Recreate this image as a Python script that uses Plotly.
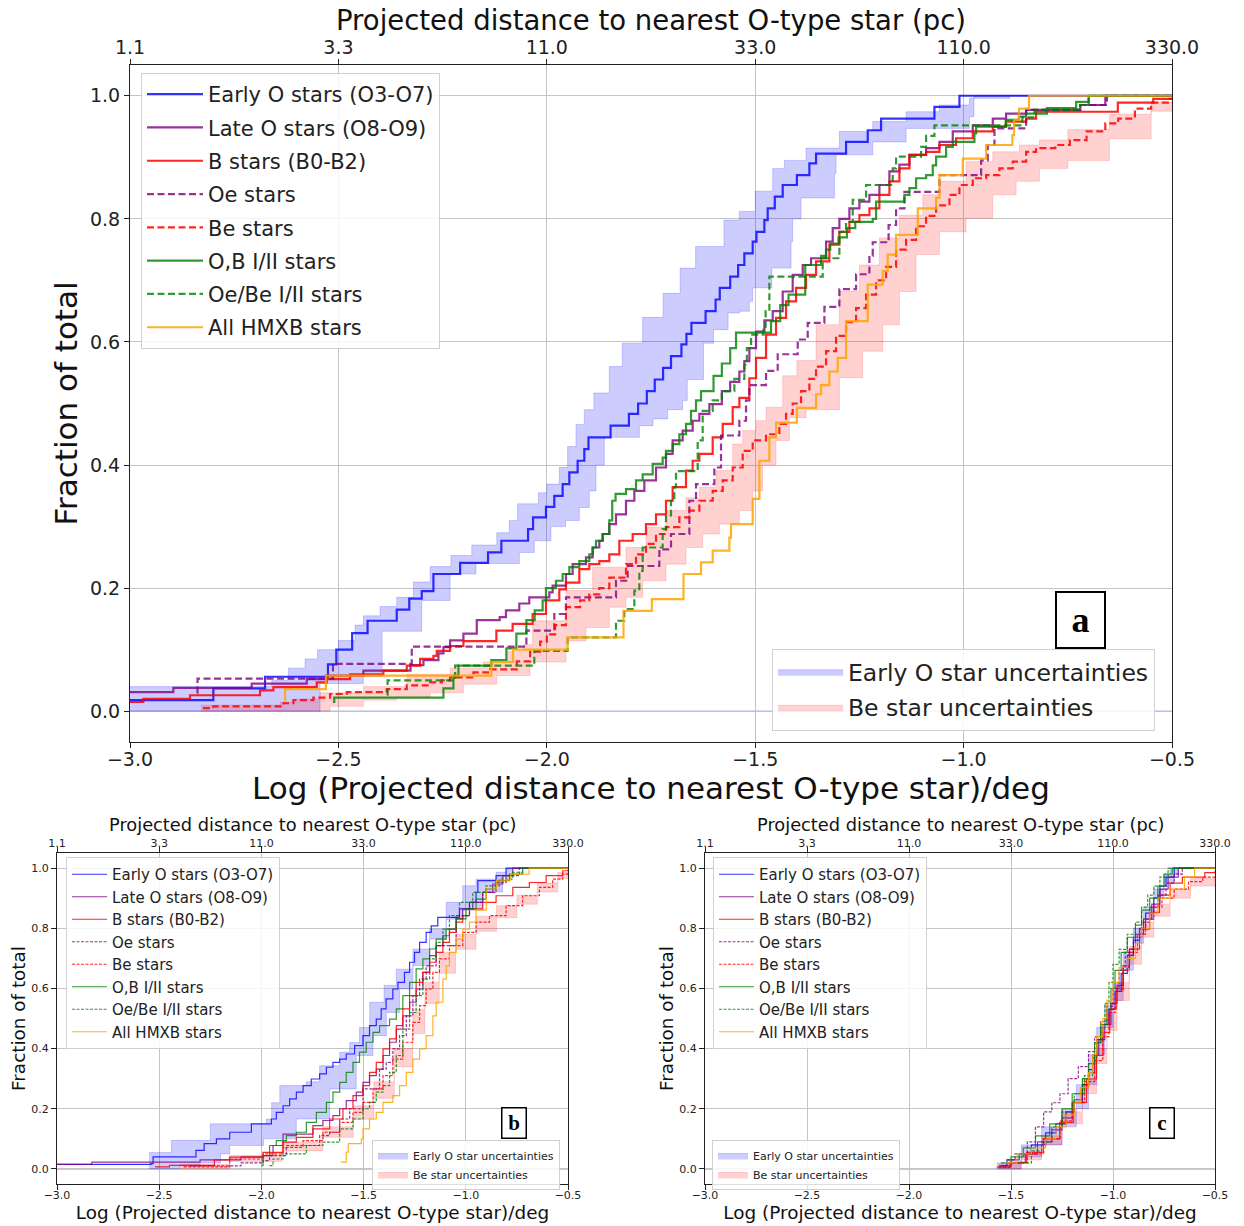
import plotly.graph_objects as go

# ---------------- axis tick labels ----------------
X_TICKS = [-3.0, -2.5, -2.0, -1.5, -1.0, -0.5]
X_TICK_LABELS = ["−3.0", "−2.5", "−2.0", "−1.5", "−1.0", "−0.5"]
PC_TICK_LABELS = ["1.1", "3.3", "11.0", "33.0", "110.0", "330.0"]
Y_TICKS = [0.0, 0.2, 0.4, 0.6, 0.8, 1.0]
Y_TICK_LABELS = ["0.0", "0.2", "0.4", "0.6", "0.8", "1.0"]

SERIES_NAMES = ["Early O stars (O3-O7)", "Late O stars (O8-O9)", "B stars (B0-B2)", "Oe stars",
                "Be stars", "O,B I/II stars", "Oe/Be I/II stars", "All HMXB stars"]
BAND_NAMES = ["Early O star uncertainties", "Be star uncertainties"]

# ---------------- panel a : (log distance, cumulative fraction) step points ----------------
A_EARLY_O = [(-3.0,0.018),(-2.80,0.037),(-2.676,0.056),(-2.525,0.076),(-2.505,0.100),(-2.467,0.127),(-2.43,0.147),
             (-2.36,0.165),(-2.33,0.183),(-2.30,0.195),(-2.272,0.223),(-2.208,0.241),(-2.141,0.258),(-2.109,0.277),
             (-2.045,0.296),(-2.033,0.315),(-2.002,0.332),(-1.982,0.350),(-1.962,0.369),(-1.946,0.388),(-1.926,0.407),
             (-1.910,0.426),(-1.90,0.445),(-1.847,0.464),(-1.803,0.483),(-1.781,0.500),(-1.760,0.520),(-1.741,0.539),
             (-1.721,0.558),(-1.702,0.577),(-1.677,0.596),(-1.665,0.613),(-1.653,0.631),(-1.619,0.650),(-1.595,0.669),
             (-1.585,0.688),(-1.560,0.706),(-1.541,0.725),(-1.526,0.744),(-1.506,0.763),(-1.497,0.779),(-1.478,0.798),
             (-1.47,0.817),(-1.453,0.836),(-1.434,0.855),(-1.40,0.871),(-1.37,0.890),(-1.354,0.906),(-1.282,0.925),
             (-1.23,0.944),(-1.198,0.963),(-1.07,0.982),(-1.01,1.0),(-0.5,1.0)]
A_EARLY_O_HI = [(-3.0,0.04),(-2.66,0.05),(-2.62,0.07),(-2.58,0.085),(-2.55,0.10),(-2.50,0.115),(-2.46,0.14),(-2.44,0.155),
                (-2.40,0.17),(-2.36,0.185),(-2.32,0.21),(-2.28,0.235),(-2.23,0.253),(-2.18,0.27),(-2.12,0.29),(-2.09,0.31),
                (-2.07,0.337),(-2.02,0.355),(-2.0,0.369),(-1.97,0.396),(-1.95,0.43),(-1.93,0.466),(-1.91,0.49),(-1.887,0.517),
                (-1.85,0.56),(-1.819,0.598),(-1.77,0.64),(-1.721,0.679),(-1.68,0.72),(-1.643,0.755),(-1.575,0.798),
                (-1.538,0.812),(-1.50,0.845),(-1.458,0.882),(-1.43,0.895),(-1.378,0.915),(-1.298,0.942),(-1.218,0.958),
                (-1.138,0.974),(-1.058,0.985),(-0.986,0.996),(-0.89,1.0),(-0.5,1.0)]
A_EARLY_O_LO = [(-3.0,0.0),(-2.544,0.045),(-2.44,0.056),(-2.395,0.13),(-2.30,0.18),(-2.232,0.223),(-2.17,0.24),(-2.066,0.258),
                (-2.03,0.277),(-1.99,0.30),(-1.955,0.31),(-1.922,0.331),(-1.898,0.358),(-1.882,0.40),(-1.862,0.445),
                (-1.778,0.464),(-1.745,0.475),(-1.71,0.49),(-1.674,0.505),(-1.663,0.539),(-1.624,0.598),(-1.60,0.62),
                (-1.565,0.647),(-1.538,0.65),(-1.514,0.666),(-1.506,0.688),(-1.46,0.72),(-1.414,0.763),(-1.41,0.80),
                (-1.39,0.834),(-1.31,0.874),(-1.306,0.904),(-1.218,0.925),(-1.138,0.947),(-0.986,0.966),(-0.975,1.0),(-0.5,1.0)]
A_LATE_O = [(-3.0,0.031),(-2.896,0.038),(-2.708,0.045),(-2.576,0.052),(-2.53,0.058),(-2.44,0.066),(-2.327,0.075),
            (-2.296,0.083),(-2.26,0.094),(-2.248,0.104),(-2.232,0.115),(-2.20,0.126),(-2.168,0.148),(-2.113,0.153),
            (-2.098,0.164),(-2.066,0.175),(-2.042,0.185),(-1.994,0.193),(-1.986,0.204),(-1.954,0.223),(-1.938,0.239),
            (-1.906,0.25),(-1.89,0.266),(-1.874,0.277),(-1.866,0.288),(-1.85,0.304),(-1.834,0.32),(-1.81,0.342),
            (-1.79,0.358),(-1.766,0.375),(-1.738,0.396),(-1.714,0.418),(-1.698,0.44),(-1.674,0.456),(-1.65,0.472),
            (-1.634,0.483),(-1.61,0.499),(-1.58,0.52),(-1.56,0.535),(-1.538,0.552),(-1.526,0.569),(-1.514,0.59),
            (-1.498,0.617),(-1.478,0.635),(-1.458,0.65),(-1.434,0.682),(-1.41,0.709),(-1.386,0.725),(-1.366,0.736),
            (-1.33,0.763),(-1.314,0.785),(-1.298,0.80),(-1.274,0.817),(-1.25,0.828),(-1.226,0.839),(-1.202,0.855),
            (-1.178,0.877),(-1.154,0.888),(-1.13,0.904),(-1.09,0.915),(-1.058,0.925),(-1.026,0.942),(-0.978,0.952),
            (-0.93,0.963),(-0.898,0.971),(-0.85,0.977),(-0.72,0.985),(-0.66,1.0),(-0.5,1.0)]
A_B_STARS = [(-3.0,0.015),(-2.968,0.02),(-2.856,0.026),(-2.688,0.034),(-2.656,0.039),(-2.552,0.047),(-2.528,0.052),
             (-2.472,0.06),(-2.392,0.066),(-2.336,0.074),(-2.304,0.085),(-2.272,0.09),(-2.264,0.098),(-2.232,0.106),
             (-2.20,0.114),(-2.121,0.131),(-2.082,0.142),(-2.034,0.158),(-2.002,0.18),(-1.97,0.198),(-1.954,0.209),
             (-1.922,0.231),(-1.898,0.239),(-1.874,0.244),(-1.85,0.255),(-1.826,0.277),(-1.794,0.288),(-1.762,0.304),
             (-1.738,0.32),(-1.714,0.342),(-1.698,0.364),(-1.666,0.391),(-1.65,0.407),(-1.634,0.418),(-1.602,0.445),
             (-1.578,0.467),(-1.554,0.494),(-1.538,0.509),(-1.514,0.541),(-1.498,0.574),(-1.474,0.612),(-1.45,0.639),
             (-1.426,0.666),(-1.402,0.688),(-1.378,0.709),(-1.354,0.731),(-1.322,0.758),(-1.298,0.779),(-1.274,0.795),
             (-1.25,0.806),(-1.226,0.817),(-1.202,0.839),(-1.178,0.861),(-1.154,0.882),(-1.13,0.904),(-1.09,0.909),
             (-1.058,0.92),(-1.018,0.931),(-0.978,0.942),(-0.93,0.95),(-0.898,0.958),(-0.85,0.963),(-0.826,0.974),
             (-0.63,0.989),(-0.545,0.995),(-0.5,0.995)]
A_OE = [(-2.84,0.03),(-2.838,0.053),(-2.513,0.077),(-2.324,0.105),(-2.049,0.131),(-1.982,0.158),(-1.954,0.185),
        (-1.834,0.212),(-1.806,0.236),(-1.73,0.263),(-1.702,0.288),(-1.658,0.342),(-1.642,0.369),(-1.598,0.396),
        (-1.582,0.448),(-1.538,0.472),(-1.522,0.505),(-1.514,0.53),(-1.474,0.553),(-1.446,0.58),(-1.398,0.604),
        (-1.374,0.631),(-1.334,0.657),(-1.298,0.686),(-1.258,0.71),(-1.226,0.74),(-1.218,0.762),(-1.18,0.79),
        (-1.162,0.817),(-1.142,0.844),(-1.058,0.871),(-0.958,0.895),(-0.942,0.92),(-0.926,0.947),(-0.85,0.977),
        (-0.72,0.985),(-0.656,1.0),(-0.5,1.0)]
A_BE = [(-2.825,0.005),(-2.80,0.008),(-2.632,0.013),(-2.608,0.018),(-2.56,0.022),(-2.52,0.028),(-2.48,0.031),
        (-2.384,0.036),(-2.336,0.042),(-2.28,0.047),(-2.252,0.05),(-2.232,0.055),(-2.176,0.063),(-2.136,0.068),
        (-2.072,0.081),(-2.04,0.097),(-2.016,0.113),(-2.0,0.125),(-1.98,0.14),(-1.954,0.169),(-1.92,0.18),
        (-1.898,0.19),(-1.874,0.20),(-1.85,0.217),(-1.81,0.239),(-1.786,0.255),(-1.762,0.272),(-1.738,0.288),
        (-1.714,0.299),(-1.682,0.315),(-1.658,0.326),(-1.634,0.342),(-1.602,0.358),(-1.578,0.375),(-1.554,0.396),
        (-1.53,0.423),(-1.506,0.44),(-1.474,0.45),(-1.442,0.467),(-1.426,0.483),(-1.41,0.50),(-1.39,0.52),
        (-1.37,0.54),(-1.354,0.56),(-1.33,0.585),(-1.306,0.61),(-1.282,0.632),(-1.258,0.655),(-1.234,0.677),
        (-1.21,0.70),(-1.186,0.722),(-1.162,0.75),(-1.138,0.766),(-1.114,0.788),(-1.09,0.805),(-1.066,0.822),
        (-1.034,0.839),(-1.01,0.855),(-0.978,0.866),(-0.946,0.871),(-0.914,0.882),(-0.882,0.893),(-0.85,0.909),
        (-0.826,0.915),(-0.78,0.92),(-0.745,0.928),(-0.705,0.942),(-0.66,0.955),(-0.629,0.963),(-0.589,0.979),
        (-0.55,0.989),(-0.51,0.995),(-0.5,0.995)]
A_BE_HI = [(-2.83,0.01),(-2.64,0.015),(-2.6,0.02),(-2.544,0.03),(-2.44,0.04),(-2.336,0.06),(-2.232,0.07),(-2.152,0.08),
           (-2.096,0.097),(-2.056,0.108),(-2.034,0.147),(-1.954,0.196),(-1.89,0.234),(-1.81,0.266),(-1.762,0.299),
           (-1.714,0.326),(-1.666,0.347),(-1.634,0.364),(-1.594,0.391),(-1.554,0.434),(-1.53,0.456),(-1.498,0.472),
           (-1.474,0.494),(-1.434,0.545),(-1.40,0.57),(-1.354,0.628),(-1.298,0.682),(-1.25,0.725),(-1.202,0.769),
           (-1.154,0.806),(-1.098,0.839),(-1.058,0.861),(-0.994,0.893),(-0.93,0.909),(-0.866,0.92),(-0.818,0.928),
           (-0.75,0.945),(-0.65,0.97),(-0.55,0.99),(-0.5,1.0)]
A_BE_LO = [(-2.83,0.0),(-2.52,0.008),(-2.44,0.018),(-2.36,0.023),(-2.28,0.03),(-2.2,0.044),(-2.12,0.058),(-2.04,0.08),
           (-1.954,0.114),(-1.906,0.136),(-1.85,0.169),(-1.81,0.185),(-1.77,0.212),(-1.714,0.239),(-1.666,0.266),
           (-1.626,0.288),(-1.586,0.304),(-1.538,0.326),(-1.506,0.358),(-1.482,0.40),(-1.45,0.44),(-1.418,0.477),
           (-1.378,0.49),(-1.298,0.542),(-1.242,0.585),(-1.194,0.628),(-1.154,0.682),(-1.114,0.742),(-1.058,0.779),
           (-0.994,0.801),(-0.93,0.839),(-0.874,0.861),(-0.818,0.882),(-0.75,0.895),(-0.65,0.93),(-0.55,0.975),(-0.5,0.985)]
A_OB_I = [(-2.513,0.015),(-2.51,0.022),(-2.248,0.037),(-2.224,0.058),(-2.212,0.074),(-2.133,0.083),(-2.097,0.102),
          (-2.073,0.126),(-2.049,0.148),(-2.029,0.164),(-2.01,0.18),(-2.002,0.20),(-1.978,0.212),(-1.962,0.223),
          (-1.946,0.234),(-1.922,0.244),(-1.898,0.255),(-1.89,0.266),(-1.882,0.277),(-1.866,0.288),(-1.85,0.310),
          (-1.843,0.342),(-1.835,0.353),(-1.81,0.361),(-1.786,0.375),(-1.77,0.385),(-1.746,0.402),(-1.722,0.412),
          (-1.714,0.423),(-1.698,0.434),(-1.682,0.45),(-1.666,0.467),(-1.654,0.488),(-1.642,0.505),(-1.63,0.52),
          (-1.60,0.545),(-1.58,0.565),(-1.56,0.59),(-1.546,0.615),(-1.462,0.634),(-1.44,0.66),(-1.42,0.677),
          (-1.38,0.725),(-1.342,0.74),(-1.33,0.75),(-1.32,0.76),(-1.30,0.77),(-1.28,0.785),(-1.26,0.795),
          (-1.218,0.80),(-1.21,0.828),(-1.142,0.839),(-1.13,0.85),(-1.114,0.866),(-1.09,0.871),(-1.074,0.887),
          (-1.066,0.901),(-1.042,0.917),(-1.026,0.925),(-0.974,0.939),(-0.97,0.95),(-0.899,0.961),(-0.867,0.966),
          (-0.85,0.971),(-0.80,0.98),(-0.73,0.99),(-0.70,1.0),(-0.5,1.0)]
A_OEBE_I = [(-2.384,0.027),(-2.382,0.05),(-2.22,0.074),(-2.03,0.098),(-1.95,0.12),(-1.834,0.147),(-1.814,0.166),
            (-1.79,0.196),(-1.778,0.228),(-1.77,0.266),(-1.722,0.296),(-1.714,0.318),(-1.702,0.342),(-1.694,0.364),
            (-1.69,0.39),(-1.638,0.44),(-1.626,0.488),(-1.602,0.505),(-1.58,0.52),(-1.55,0.54),(-1.526,0.563),
            (-1.52,0.59),(-1.51,0.612),(-1.48,0.62),(-1.475,0.65),(-1.466,0.706),(-1.338,0.736),(-1.298,0.779),
            (-1.282,0.795),(-1.266,0.831),(-1.234,0.855),(-1.17,0.882),(-1.162,0.901),(-1.102,0.917),(-1.09,0.935),
            (-1.07,0.952),(-0.859,0.965),(-0.83,0.977),(-0.72,0.985),(-0.70,1.0),(-0.5,1.0)]
A_HMXB = [(-2.63,0.018),(-2.628,0.036),(-2.53,0.058),(-2.133,0.08),(-2.081,0.10),(-1.95,0.12),(-1.816,0.163),
          (-1.748,0.182),(-1.672,0.223),(-1.63,0.242),(-1.602,0.261),(-1.562,0.282),(-1.558,0.304),(-1.506,0.345),
          (-1.49,0.407),(-1.466,0.445),(-1.45,0.469),(-1.40,0.493),(-1.354,0.515),(-1.342,0.53),(-1.322,0.552),
          (-1.302,0.574),(-1.282,0.634),(-1.23,0.693),(-1.194,0.715),(-1.182,0.742),(-1.162,0.774),(-1.11,0.817),
          (-1.066,0.834),(-1.058,0.871),(-1.002,0.898),(-0.946,0.92),(-0.883,0.936),(-0.879,0.961),(-0.867,0.979),
          (-0.843,1.0),(-0.5,1.0)]

# ---------------- panel b ----------------
B_EARLY_O = [(-3.0,0.015),(-2.54,0.018),(-2.53,0.04),(-2.32,0.062),(-2.28,0.084),(-2.22,0.10),(-2.155,0.122),(-2.049,0.15),
             (-1.951,0.166),(-1.927,0.188),(-1.894,0.21),(-1.862,0.233),(-1.829,0.255),(-1.796,0.277),(-1.756,0.299),
             (-1.715,0.316),(-1.682,0.338),(-1.65,0.354),(-1.617,0.365),(-1.585,0.382),(-1.544,0.41),(-1.503,0.443),
             (-1.471,0.476),(-1.438,0.498),(-1.414,0.532),(-1.39,0.565),(-1.357,0.598),(-1.332,0.62),(-1.30,0.653),
             (-1.275,0.687),(-1.251,0.72),(-1.226,0.753),(-1.194,0.786),(-1.169,0.808),(-1.137,0.836),(-1.031,0.864),
             (-0.982,0.886),(-0.95,0.919),(-0.941,0.958),(-0.852,0.975),(-0.803,1.0),(-0.5,1.0)]
B_EARLY_O_HI = [(-2.55,0.055),(-2.44,0.095),(-2.25,0.15),(-2.155,0.15),(-1.976,0.166),(-1.95,0.22),(-1.91,0.277),
                (-1.78,0.29),(-1.715,0.343),(-1.617,0.388),(-1.568,0.42),(-1.52,0.47),(-1.47,0.554),(-1.40,0.61),
                (-1.34,0.664),(-1.259,0.731),(-1.177,0.797),(-1.096,0.886),(-1.015,0.941),(-0.95,0.963),(-0.852,0.986),
                (-0.80,1.0),(-0.5,1.0)]
B_EARLY_O_LO = [(-2.55,0.0),(-2.40,0.01),(-2.30,0.02),(-2.2,0.05),(-2.155,0.078),(-1.99,0.10),(-1.829,0.166),
                (-1.666,0.266),(-1.536,0.377),(-1.454,0.443),(-1.389,0.52),(-1.324,0.598),(-1.259,0.676),(-1.177,0.764),
                (-1.096,0.83),(-1.015,0.86),(-0.917,0.92),(-0.82,0.97),(-0.77,1.0),(-0.5,1.0)]
B_LATE_O = [(-3.0,0.015),(-2.83,0.023),(-2.3,0.03),(-2.1,0.04),(-1.992,0.044),(-1.943,0.078),(-1.894,0.116),
            (-1.748,0.144),(-1.699,0.161),(-1.65,0.177),(-1.617,0.2),(-1.585,0.227),(-1.536,0.255),(-1.503,0.288),
            (-1.471,0.31),(-1.438,0.332),(-1.405,0.377),(-1.373,0.421),(-1.34,0.465),(-1.308,0.509),(-1.275,0.554),
            (-1.243,0.598),(-1.21,0.653),(-1.177,0.709),(-1.145,0.742),(-1.112,0.775),(-1.08,0.797),(-1.047,0.831),
            (-1.015,0.864),(-0.966,0.886),(-0.917,0.919),(-0.868,0.947),(-0.819,0.975),(-0.77,1.0),(-0.5,1.0)]
B_B_STARS = [(-2.52,0.007),(-2.45,0.012),(-2.23,0.03),(-2.156,0.039),(-1.992,0.055),(-1.894,0.089),(-1.829,0.105),
             (-1.748,0.133),(-1.666,0.166),(-1.601,0.2),(-1.552,0.244),(-1.503,0.277),(-1.471,0.321),(-1.438,0.354),
             (-1.405,0.399),(-1.373,0.432),(-1.34,0.476),(-1.308,0.532),(-1.275,0.576),(-1.243,0.62),(-1.21,0.653),
             (-1.177,0.687),(-1.145,0.72),(-1.112,0.753),(-1.08,0.786),(-1.047,0.82),(-1.015,0.842),(-0.982,0.864),
             (-0.917,0.886),(-0.852,0.908),(-0.77,0.936),(-0.689,0.952),(-0.607,0.975),(-0.526,0.991),(-0.5,0.995)]
B_OE = [(-2.35,0.01),(-2.1,0.02),(-1.992,0.028),(-1.96,0.044),(-1.878,0.078),(-1.715,0.111),(-1.666,0.122),
        (-1.617,0.166),(-1.568,0.2),(-1.503,0.266),(-1.422,0.332),(-1.389,0.354),(-1.357,0.399),(-1.324,0.443),
        (-1.291,0.509),(-1.259,0.576),(-1.226,0.631),(-1.194,0.675),(-1.145,0.742),(-1.047,0.842),(-0.982,0.886),
        (-0.917,0.919),(-0.852,0.952),(-0.803,0.975),(-0.738,1.0),(-0.5,1.0)]
B_BE = [(-2.38,0.007),(-2.155,0.033),(-1.992,0.05),(-1.894,0.072),(-1.796,0.094),(-1.699,0.122),(-1.617,0.155),
        (-1.552,0.188),(-1.503,0.221),(-1.454,0.266),(-1.405,0.31),(-1.357,0.365),(-1.308,0.421),(-1.259,0.487),
        (-1.226,0.543),(-1.194,0.598),(-1.161,0.653),(-1.129,0.698),(-1.08,0.742),(-1.015,0.786),(-0.95,0.82),
        (-0.884,0.842),(-0.803,0.875),(-0.722,0.908),(-0.64,0.936),(-0.575,0.963),(-0.526,0.98),(-0.5,0.985)]
B_BE_HI = [(-2.4,0.015),(-2.155,0.045),(-1.9,0.09),(-1.7,0.14),(-1.55,0.21),(-1.45,0.29),(-1.35,0.40),(-1.26,0.53),
           (-1.2,0.62),(-1.13,0.72),(-1.05,0.78),(-0.95,0.84),(-0.85,0.875),(-0.75,0.91),(-0.65,0.95),(-0.55,0.985),
           (-0.5,0.99)]
B_BE_LO = [(-2.4,0.0),(-2.155,0.025),(-1.9,0.06),(-1.7,0.105),(-1.55,0.165),(-1.45,0.235),(-1.35,0.34),(-1.26,0.45),
           (-1.2,0.55),(-1.13,0.65),(-1.05,0.73),(-0.95,0.79),(-0.85,0.835),(-0.75,0.88),(-0.65,0.92),(-0.55,0.965),
           (-0.5,0.98)]
B_OB_I = [(-2.0,0.011),(-1.992,0.044),(-1.96,0.078),(-1.927,0.094),(-1.878,0.111),(-1.829,0.122),(-1.78,0.155),
          (-1.731,0.188),(-1.682,0.221),(-1.65,0.255),(-1.617,0.288),(-1.585,0.321),(-1.552,0.354),(-1.52,0.388),
          (-1.487,0.421),(-1.454,0.454),(-1.422,0.476),(-1.373,0.498),(-1.34,0.532),(-1.308,0.576),(-1.275,0.62),
          (-1.243,0.665),(-1.21,0.698),(-1.177,0.731),(-1.145,0.764),(-1.096,0.797),(-1.047,0.831),(-0.999,0.864),
          (-0.95,0.897),(-0.901,0.93),(-0.852,0.958),(-0.787,0.98),(-0.722,1.0),(-0.5,1.0)]
B_OEBE_I = [(-1.96,0.011),(-1.943,0.033),(-1.894,0.05),(-1.78,0.078),(-1.699,0.089),(-1.617,0.133),(-1.552,0.166),
            (-1.503,0.2),(-1.471,0.221),(-1.438,0.255),(-1.405,0.277),(-1.373,0.321),(-1.34,0.377),(-1.308,0.465),
            (-1.275,0.52),(-1.243,0.576),(-1.21,0.631),(-1.177,0.698),(-1.145,0.753),(-1.112,0.797),(-1.08,0.842),
            (-1.031,0.886),(-0.966,0.919),(-0.901,0.941),(-0.836,0.963),(-0.77,0.986),(-0.722,1.0),(-0.5,1.0)]
B_HMXB = [(-1.612,0.023),(-1.585,0.056),(-1.575,0.084),(-1.511,0.10),(-1.503,0.133),(-1.471,0.166),(-1.438,0.188),
          (-1.405,0.221),(-1.357,0.244),(-1.324,0.277),(-1.291,0.321),(-1.259,0.365),(-1.226,0.399),(-1.194,0.443),
          (-1.161,0.509),(-1.145,0.554),(-1.112,0.631),(-1.096,0.675),(-1.08,0.72),(-1.047,0.764),(-1.015,0.797),
          (-0.982,0.82),(-0.95,0.86),(-0.90,0.93),(-0.85,0.96),(-0.78,0.98),(-0.69,1.0),(-0.5,1.0)]

# ---------------- panel c ----------------
C_EARLY_O = [(-1.56,0.01),(-1.52,0.03),(-1.46,0.05),(-1.40,0.08),(-1.33,0.12),(-1.28,0.15),(-1.23,0.19),(-1.19,0.23),
             (-1.15,0.28),(-1.12,0.33),(-1.10,0.38),(-1.08,0.43),(-1.05,0.48),(-1.02,0.53),(-0.99,0.59),(-0.96,0.65),
             (-0.93,0.71),(-0.90,0.76),(-0.87,0.80),(-0.84,0.85),(-0.80,0.90),(-0.77,0.94),(-0.74,0.97),(-0.70,1.0),(-0.5,1.0)]
C_EARLY_O_HI = [(-1.57,0.02),(-1.45,0.08),(-1.35,0.14),(-1.25,0.20),(-1.18,0.28),(-1.12,0.38),(-1.08,0.47),(-1.04,0.55),
                (-1.0,0.62),(-0.95,0.72),(-0.9,0.80),(-0.85,0.87),(-0.8,0.93),(-0.75,0.98),(-0.72,1.0),(-0.5,1.0)]
C_EARLY_O_LO = [(-1.57,0.0),(-1.45,0.04),(-1.35,0.08),(-1.25,0.14),(-1.18,0.2),(-1.12,0.28),(-1.08,0.38),(-1.04,0.47),
                (-1.0,0.56),(-0.95,0.66),(-0.9,0.75),(-0.85,0.83),(-0.8,0.90),(-0.75,0.95),(-0.7,0.98),(-0.68,1.0),(-0.5,1.0)]
C_LATE_O = [(-1.55,0.01),(-1.50,0.02),(-1.43,0.05),(-1.37,0.09),(-1.30,0.13),(-1.25,0.17),(-1.20,0.22),(-1.15,0.27),
            (-1.12,0.32),(-1.09,0.38),(-1.07,0.43),(-1.04,0.48),(-1.01,0.55),(-0.98,0.61),(-0.95,0.67),(-0.92,0.73),
            (-0.89,0.78),(-0.85,0.83),(-0.81,0.88),(-0.77,0.93),(-0.73,0.97),(-0.68,1.0),(-0.5,1.0)]
C_B_STARS = [(-1.57,0.006),(-1.505,0.022),(-1.423,0.055),(-1.342,0.10),(-1.261,0.155),(-1.195,0.221),(-1.13,0.299),
             (-1.081,0.377),(-1.049,0.454),(-1.016,0.532),(-0.984,0.598),(-0.951,0.676),(-0.919,0.731),(-0.87,0.797),
             (-0.821,0.853),(-0.772,0.91),(-0.72,0.95),(-0.66,0.97),(-0.55,0.985),(-0.5,0.99)]
C_OE = [(-1.52,0.03),(-1.48,0.05),(-1.42,0.09),(-1.38,0.14),(-1.34,0.19),(-1.30,0.22),(-1.26,0.25),(-1.22,0.30),
        (-1.17,0.34),(-1.12,0.39),(-1.09,0.44),(-1.06,0.49),(-1.03,0.54),(-1.00,0.60),(-0.97,0.66),(-0.94,0.72),
        (-0.90,0.77),(-0.86,0.82),(-0.82,0.87),(-0.78,0.91),(-0.74,0.95),(-0.70,0.98),(-0.66,1.0),(-0.5,1.0)]
C_BE = [(-1.56,0.005),(-1.50,0.02),(-1.42,0.05),(-1.34,0.10),(-1.26,0.16),(-1.20,0.22),(-1.14,0.29),(-1.09,0.36),
        (-1.05,0.44),(-1.02,0.52),(-0.99,0.59),(-0.95,0.66),(-0.92,0.72),(-0.88,0.78),(-0.84,0.83),(-0.80,0.87),
        (-0.76,0.90),(-0.70,0.93),(-0.63,0.955),(-0.56,0.97),(-0.5,0.975)]
C_BE_HI = [(-1.56,0.015),(-1.45,0.05),(-1.35,0.11),(-1.25,0.19),(-1.15,0.30),(-1.08,0.40),(-1.03,0.52),(-0.98,0.62),
           (-0.92,0.74),(-0.86,0.82),(-0.8,0.88),(-0.72,0.93),(-0.62,0.965),(-0.5,0.985)]
C_BE_LO = [(-1.56,0.0),(-1.45,0.03),(-1.35,0.08),(-1.25,0.15),(-1.15,0.25),(-1.08,0.35),(-1.03,0.46),(-0.98,0.56),
           (-0.92,0.68),(-0.86,0.77),(-0.8,0.84),(-0.72,0.9),(-0.62,0.94),(-0.5,0.965)]
C_OB_I = [(-1.55,0.02),(-1.50,0.04),(-1.44,0.07),(-1.38,0.11),(-1.31,0.15),(-1.25,0.20),(-1.20,0.25),(-1.15,0.30),
          (-1.12,0.35),(-1.09,0.42),(-1.06,0.48),(-1.03,0.53),(-1.01,0.60),(-0.99,0.66),(-0.96,0.72),(-0.93,0.77),
          (-0.89,0.81),(-0.86,0.86),(-0.82,0.90),(-0.78,0.94),(-0.75,0.98),(-0.71,1.0),(-0.5,1.0)]
C_OEBE_I = [(-1.47,0.02),(-1.40,0.06),(-1.35,0.09),(-1.30,0.14),(-1.25,0.19),(-1.19,0.25),(-1.14,0.31),(-1.10,0.37),
            (-1.08,0.42),(-1.06,0.47),(-1.04,0.55),(-1.02,0.62),(-1.00,0.68),(-0.97,0.73),(-0.93,0.78),(-0.89,0.82),
            (-0.86,0.87),(-0.83,0.91),(-0.80,0.94),(-0.77,0.97),(-0.73,1.0),(-0.5,1.0)]
C_HMXB = [(-1.53,0.02),(-1.47,0.05),(-1.40,0.07),(-1.33,0.10),(-1.28,0.14),(-1.23,0.18),(-1.19,0.22),(-1.16,0.27),
          (-1.12,0.32),(-1.10,0.38),(-1.08,0.44),(-1.05,0.50),(-1.03,0.56),(-1.00,0.62),(-0.97,0.67),(-0.93,0.70),
          (-0.89,0.75),(-0.86,0.80),(-0.82,0.85),(-0.78,0.90),(-0.72,0.93),(-0.65,0.97),(-0.60,1.0),(-0.5,1.0)]

# ---------------- styles ----------------
COLORS = ["rgba(0,0,255,0.8)", "rgba(128,0,128,0.8)", "rgba(255,0,0,0.85)", "rgba(128,0,128,0.8)",
          "rgba(255,0,0,0.85)", "rgba(0,128,0,0.8)", "rgba(0,128,0,0.8)", "rgba(255,165,0,0.85)"]
DASHED = [False, False, False, True, True, False, True, False]
BAND_FILL = ["rgba(0,0,255,0.2)", "rgba(255,0,0,0.18)"]
BAND_LINE = ["rgba(0,0,255,0.18)", "rgba(255,0,0,0.15)"]
FONT = "DejaVu Sans"

PANELS = [
    dict(xa="x", ya="y", series=[A_EARLY_O, A_LATE_O, A_B_STARS, A_OE, A_BE, A_OB_I, A_OEBE_I, A_HMXB],
         bands=[(A_EARLY_O_LO, A_EARLY_O_HI), (A_BE_LO, A_BE_HI)], leg="legend", bleg="legend2",
         lw=2.2, dash="7px,3.5px", top="x4"),
    dict(xa="x2", ya="y2", series=[B_EARLY_O, B_LATE_O, B_B_STARS, B_OE, B_BE, B_OB_I, B_OEBE_I, B_HMXB],
         bands=[(B_EARLY_O_LO, B_EARLY_O_HI), (B_BE_LO, B_BE_HI)], leg="legend3", bleg="legend4",
         lw=1.2, dash="3px,1.5px", top="x5"),
    dict(xa="x3", ya="y3", series=[C_EARLY_O, C_LATE_O, C_B_STARS, C_OE, C_BE, C_OB_I, C_OEBE_I, C_HMXB],
         bands=[(C_EARLY_O_LO, C_EARLY_O_HI), (C_BE_LO, C_BE_HI)], leg="legend5", bleg="legend6",
         lw=1.2, dash="3px,1.5px", top="x6"),
]

fig = go.Figure()
for p in PANELS:
    for bi, (lo, hi) in enumerate(p["bands"]):
        lx, ly = zip(*lo)
        hx, hy = zip(*hi)
        fig.add_trace(go.Scatter(x=lx, y=ly, mode="lines", xaxis=p["xa"], yaxis=p["ya"],
                                 line=dict(color=BAND_LINE[bi], width=1, shape="hv"),
                                 showlegend=False, legend=p["bleg"], hoverinfo="skip"))
        fig.add_trace(go.Scatter(x=hx, y=hy, mode="lines", xaxis=p["xa"], yaxis=p["ya"], fill="tonexty",
                                 fillcolor=BAND_FILL[bi], line=dict(color=BAND_LINE[bi], width=1, shape="hv"),
                                 name=BAND_NAMES[bi], legend=p["bleg"], legendgroup=p["bleg"] + str(bi)))
    for si, pts in enumerate(p["series"]):
        sx, sy = zip(*pts)
        fig.add_trace(go.Scatter(x=sx, y=sy, mode="lines", xaxis=p["xa"], yaxis=p["ya"],
                                 line=dict(color=COLORS[si], width=p["lw"], shape="hv",
                                           dash=p["dash"] if DASHED[si] else "solid"),
                                 name=SERIES_NAMES[si], legend=p["leg"], legendgroup=p["leg"] + str(si)))
    # invisible carrier so the secondary (pc) top axis is drawn
    fig.add_trace(go.Scatter(x=X_TICKS, y=Y_TICKS, mode="markers", marker=dict(opacity=0),
                             xaxis=p["top"], yaxis=p["ya"], showlegend=False, hoverinfo="skip"))

OFF = 8                      # page body margin
W, H = 1244 - OFF, 1226 - OFF


def xdom(a, b):
    return [(a - OFF) / W, (b - OFF) / W]


def ydom(top, bottom):
    return [1 - (bottom - OFF) / H, 1 - (top - OFF) / H]


def px(xp):
    return (xp - OFF) / W


def py(yp):
    return 1 - (yp - OFF) / H


def xaxis(dom, anchor, tick_size, title, title_size, standoff, tls):
    return dict(domain=dom, anchor=anchor, range=[-3, -0.5], tickvals=X_TICKS, ticktext=X_TICK_LABELS,
                showline=True, linecolor="#222", linewidth=1.2, mirror=True, ticks="outside", ticklen=5,
                tickcolor="#222", showgrid=True, gridcolor="#c4c4c4", gridwidth=1, zeroline=False,
                tickfont=dict(family=FONT, size=tick_size, color="#222"), ticklabelstandoff=tls,
                title=dict(text=title, font=dict(family=FONT, size=title_size, color="#111"), standoff=standoff),
                automargin=False)


def topaxis(over, anchor, tick_size, tls):
    return dict(overlaying=over, anchor=anchor, side="top", range=[-3, -0.5], tickvals=X_TICKS,
                ticktext=PC_TICK_LABELS, showline=True, linecolor="#222", linewidth=1.2, ticks="outside",
                ticklen=5, tickcolor="#222", showgrid=False, zeroline=False,
                tickfont=dict(family=FONT, size=tick_size, color="#222"), ticklabelstandoff=tls,
                automargin=False)


def yaxis(dom, anchor, tick_size, title, title_size, standoff):
    return dict(domain=dom, anchor=anchor, range=[-0.05, 1.05], tickvals=Y_TICKS, ticktext=Y_TICK_LABELS,
                showline=True, linecolor="#222", linewidth=1.2, mirror=True, ticks="outside", ticklen=5,
                tickcolor="#222", showgrid=True, gridcolor="#c4c4c4", gridwidth=1, zeroline=False,
                tickfont=dict(family=FONT, size=tick_size, color="#222"),
                title=dict(text=title, font=dict(family=FONT, size=title_size, color="#111"), standoff=standoff),
                automargin=False)


XT = "Log (Projected distance to nearest O-type star)/deg"
TT = "Projected distance to nearest O-type star (pc)"
YT = "Fraction of total"


def legend(x, y, size, gap, iw):
    return dict(x=x, y=y, xanchor="left", yanchor="top", font=dict(family=FONT, size=size, color="#222"),
                bgcolor="rgba(255,255,255,0.85)", bordercolor="#d0d0d0", borderwidth=1,
                tracegroupgap=gap, traceorder="grouped", itemwidth=iw)


fig.update_layout(
    width=W, height=H, margin=dict(l=0, r=0, t=0, b=0), paper_bgcolor="white", plot_bgcolor="white",
    showlegend=True,
    xaxis=xaxis(xdom(130, 1172), "y", 19, XT, 31, 1, -5),
    yaxis=yaxis(ydom(65, 742), "x", 19, YT, 31, 3),
    xaxis4=topaxis("x", "y", 19, -3),
    xaxis2=xaxis(xdom(57, 568), "y2", 11, XT, 18.4, 0, -4),
    yaxis2=yaxis(ydom(853, 1184), "x2", 11, YT, 18.4, 0),
    xaxis5=topaxis("x2", "y2", 11, -4),
    xaxis3=xaxis(xdom(705, 1215), "y3", 11, XT, 18.4, 0, -4),
    yaxis3=yaxis(ydom(853, 1184), "x3", 11, YT, 18.4, 0),
    xaxis6=topaxis("x3", "y3", 11, -4),
    legend=legend(px(141), py(73), 21, 3, 56),
    legend2=legend(px(772), py(649), 23.5, 2, 65),
    legend3=legend(px(66), py(857), 15, 0, 35),
    legend4=legend(px(372), py(1140), 11, 0, 30),
    legend5=legend(px(713), py(857), 15, 0, 35),
    legend6=legend(px(712), py(1140), 11, 0, 30),
)

# top (pc) axis titles
for cx, cy, size in [(651, 19.5, 27.5), (312.5, 824, 17.8), (960, 824, 17.8)]:
    fig.add_annotation(text=TT, x=px(cx), y=py(cy), xref="paper", yref="paper", showarrow=False,
                       font=dict(family=FONT, size=size, color="#111"), xanchor="center", yanchor="middle",
                       borderpad=0)

for xr, yr in [("x", "y"), ("x2", "y2"), ("x3", "y3")]:
    fig.add_shape(type="line", xref=xr + " domain", yref=yr, x0=0, x1=1, y0=0, y1=0,
                  line=dict(color="rgba(120,120,210,0.55)", width=1.5), layer="below")

for txt, cx, cy, size, w, h, bw in [("a", 1080.5, 620, 36, 45, 52, 2), ("b", 514, 1123, 21, 21, 27, 1.5),
                                    ("c", 1162, 1123, 21, 21, 27, 1.5)]:
    fig.add_annotation(text="<b>" + txt + "</b>", x=px(cx), y=py(cy), xref="paper", yref="paper",
                       showarrow=False, font=dict(family="Liberation Serif", size=size, color="black"),
                       width=w, height=h, bordercolor="black", borderwidth=bw, bgcolor="white",
                       xanchor="center", yanchor="middle")

fig.write_html("out.html")
